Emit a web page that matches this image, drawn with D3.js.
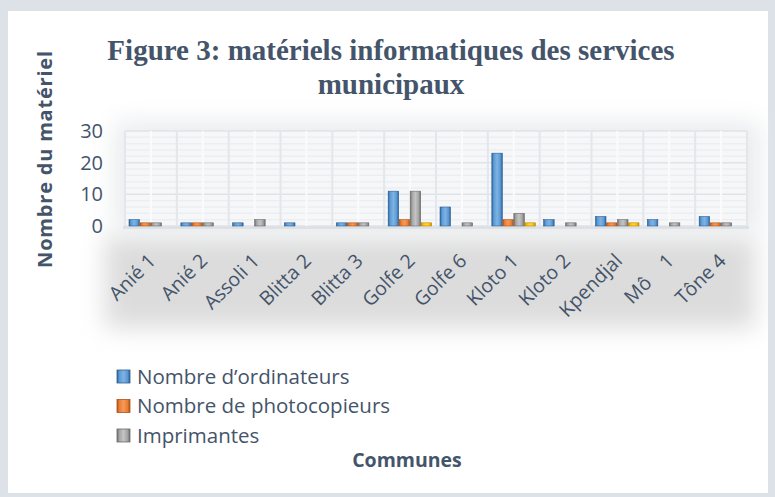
<html>
<head>
<meta charset="utf-8">
<script src="https://cdnjs.cloudflare.com/ajax/libs/d3/7.8.5/d3.min.js"></script>
<style>
  body { margin: 0; background: #fff; }
  svg { display: block; }
</style>
</head>
<body>
<svg width="775" height="497"></svg>
<script>
// data
var communes = ["Anié 1", "Anié 2", "Assoli 1", "Blitta 2", "Blitta 3", "Golfe 2", "Golfe 6", "Kloto 1", "Kloto 2", "Kpendjal", "Mô    1", "Tône 4"];
var ordinateurs   = [2, 1, 1, 1, 1, 11, 6, 23, 2, 3, 2, 3];
var photocopieurs = [1, 1, 0, 0, 1, 2, 0, 2, 0, 1, 0, 1];
var imprimantes   = [1, 1, 2, 0, 1, 11, 1, 4, 1, 2, 1, 1];
var autres        = [0, 0, 0, 0, 0, 1, 0, 1, 0, 1, 0, 0];   // yellow series, not in legend
var seriesNames = ["Nombre d\u2019ordinateurs", "Nombre de photocopieurs", "Imprimantes", ""];
var yTicks = [0, 10, 20, 30];

var colors = [
  {mid: "#5b9bd5", dark: "#2e5f93", light: "#7fb2e3"},
  {mid: "#ed7d31", dark: "#a9531a", light: "#f39a5c"},
  {mid: "#a5a5a5", dark: "#6b6b6b", light: "#c4c4c4"},
  {mid: "#ffc000", dark: "#b98a00", light: "#ffd04d"}
];
var txt = "#44546a";

var allSeries = [ordinateurs, photocopieurs, imprimantes, autres];
var rows = communes.map((c, i) => ({commune: c, vals: allSeries.map(s => s[i])}));

var svg = d3.select("svg");
var defs = svg.append("defs");

// frame
svg.append("rect").attr("x", 0).attr("y", 0).attr("width", 775).attr("height", 497).attr("fill", "#dde2e9");
svg.append("rect").attr("x", 8).attr("y", 11).attr("width", 760).attr("height", 482).attr("fill", "#ffffff");

// soft shadow behind plot / label zone
var blur = defs.append("filter").attr("id", "blur").attr("x", "-20%").attr("y", "-40%").attr("width", "140%").attr("height", "180%");
blur.append("feGaussianBlur").attr("stdDeviation", 12);
svg.append("rect").attr("x", 105).attr("y", 236).attr("width", 650).attr("height", 92)
  .attr("fill", "#dcdcdc").attr("filter", "url(#blur)");
svg.append("rect").attr("x", 115).attr("y", 122).attr("width", 645).attr("height", 110)
  .attr("fill", "#e9ebee").attr("filter", "url(#blur)");

var x = d3.scaleBand().domain(communes).range([125, 747]);
var xs = d3.scaleBand().domain(d3.range(4)).range([4, 48]);
var y = d3.scaleLinear().domain([0, 30]).range([226, 131]);

// plot background
svg.append("rect").attr("x", 125).attr("y", 131).attr("width", 622).attr("height", 95).attr("fill", "#f6f7f9");

// horizontal grid (minor + major)
svg.append("g").selectAll("line").data(d3.range(0, 31, 2))
  .join("line")
  .attr("x1", 125).attr("x2", 747)
  .attr("y1", d => y(d)).attr("y2", d => y(d))
  .attr("stroke", d => d % 10 === 0 ? "#dfe3e8" : "#eceef1").attr("stroke-width", 1.5);

// vertical grid
var vlines = [];
communes.forEach(c => { vlines.push(x(c)); vlines.push(x(c) + x.bandwidth() / 2); });
vlines.push(747);
svg.append("g").selectAll("line").data(vlines)
  .join("line")
  .attr("x1", d => d).attr("x2", d => d)
  .attr("y1", 131).attr("y2", 226)
  .attr("stroke", (d, i) => i % 2 === 0 ? "#e3e6ea" : "#fbfbfc").attr("stroke-width", 2);

// floor
svg.append("rect").attr("x", 123).attr("y", 226).attr("width", 626).attr("height", 3).attr("fill", "#dde1e6");

// bar gradients
colors.forEach((c, i) => {
  var g = defs.append("linearGradient").attr("id", "g" + i).attr("x1", 0).attr("x2", 1).attr("y1", 0).attr("y2", 0);
  g.append("stop").attr("offset", "0%").attr("stop-color", c.dark);
  g.append("stop").attr("offset", "18%").attr("stop-color", c.mid);
  g.append("stop").attr("offset", "50%").attr("stop-color", c.light);
  g.append("stop").attr("offset", "80%").attr("stop-color", c.mid);
  g.append("stop").attr("offset", "100%").attr("stop-color", c.dark);
});

// bars
var groups = svg.append("g").selectAll("g").data(rows)
  .join("g")
  .attr("transform", d => "translate(" + x(d.commune) + ",0)");

groups.selectAll("rect")
  .data(d => d.vals.map((v, k) => ({k: k, v: v})).filter(e => e.v > 0))
  .join("rect")
  .attr("x", e => xs(e.k))
  .attr("width", xs.bandwidth() - 0.5)
  .attr("y", e => y(e.v))
  .attr("height", e => y(0) - y(e.v))
  .attr("fill", e => "url(#g" + e.k + ")")
  .attr("stroke", e => colors[e.k].dark).attr("stroke-width", 0.6);

// y axis labels
svg.append("g").selectAll("text").data(yTicks)
  .join("text")
  .attr("x", 103).attr("y", d => y(d) + 7)
  .attr("text-anchor", "end")
  .attr("font-family", "Open Sans, sans-serif").attr("font-size", 20)
  .attr("fill", txt)
  .text(d => d);

// x axis labels
svg.append("g").selectAll("text").data(communes)
  .join("text")
  .attr("transform", d => "translate(" + (x(d) + x.bandwidth() / 2 + 6) + ",262) rotate(-45)")
  .attr("text-anchor", "end")
  .attr("font-family", "Open Sans, sans-serif").attr("font-size", 19.5)
  .attr("fill", txt)
  .style("white-space", "pre")
  .text(d => d);

// title
var title = svg.append("text")
  .attr("x", 391).attr("text-anchor", "middle")
  .attr("font-family", "Liberation Serif, serif").attr("font-weight", "bold").attr("font-size", 29)
  .attr("fill", txt);
title.append("tspan").attr("x", 391).attr("y", 60).text("Figure 3: matériels informatiques des services");
title.append("tspan").attr("x", 391).attr("y", 94).text("municipaux");

// y axis title
svg.append("text")
  .attr("transform", "translate(52,159) rotate(-90)")
  .attr("text-anchor", "middle")
  .attr("font-family", "Open Sans, sans-serif").attr("font-weight", "bold").attr("font-size", 20)
  .attr("letter-spacing", 0.8)
  .attr("fill", txt)
  .text("Nombre du matériel");

// x axis title
svg.append("text")
  .attr("x", 407).attr("y", 467).attr("text-anchor", "middle")
  .attr("font-family", "Open Sans, sans-serif").attr("font-weight", "bold").attr("font-size", 19.5)
  .attr("fill", txt)
  .text("Communes");

// legend
var leg = svg.append("g").selectAll("g").data(seriesNames.slice(0, 3))
  .join("g")
  .attr("transform", (d, i) => "translate(117," + (370 + i * 29.5) + ")");
leg.append("rect").attr("width", 13).attr("height", 13)
  .attr("fill", (d, i) => "url(#g" + i + ")")
  .attr("stroke", (d, i) => colors[i].dark).attr("stroke-width", 0.8);
leg.append("text").attr("x", 20).attr("y", 13.5)
  .attr("font-family", "Open Sans, sans-serif").attr("font-size", 20.5)
  .attr("fill", txt)
  .text(d => d);
</script>
</body>
</html>
